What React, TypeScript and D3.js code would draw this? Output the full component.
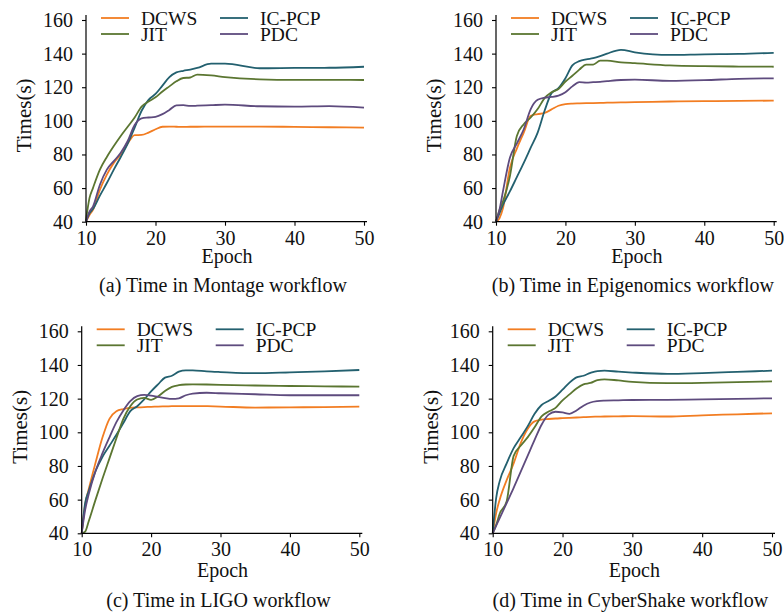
import { useEffect, useRef } from "react";
import * as d3 from "d3";

// epochs the curves were read at
const epochs = [10, 10.5, 11, 12, 13, 14, 15, 16, 17, 18, 19, 20, 21, 22, 23, 24, 25, 26, 28, 30, 35, 40, 45, 50];

const methods = ["DCWS", "IC-PCP", "JIT", "PDC"];
const colors = ["#f27d22", "#23606f", "#5b7631", "#5e4b7e"];
const yTicks = [40, 60, 80, 100, 120, 140, 160];
const xTicks = [10, 20, 30, 40, 50];

// (a) Montage
const montageDCWS = [40, 44, 47, 59, 68, 75, 80, 86.5, 91.5, 91.6, 93, 95, 96.5, 96.6, 96.5, 96.4, 96.5, 96.5, 96.6, 96.6, 96.6, 96.4, 96.2, 96];
const montageICPCP = [40, 45, 47.5, 55.5, 63, 71, 78.5, 86.5, 96, 106, 112.5, 116, 121, 126, 128.8, 129.8, 130.5, 131.5, 134, 134, 131.3, 131.5, 131.6, 132.2];
const montageJIT = [41, 54, 60, 71, 78.5, 85, 91, 96.5, 102, 108.5, 111.5, 114, 117.5, 120.5, 123.5, 125.5, 125.8, 127.5, 127, 126, 124.7, 124.4, 124.4, 124.3];
const montagePDC = [40, 46, 49, 62, 71, 76, 81, 88, 97.5, 101.5, 102, 102.4, 104, 106.5, 109.2, 109.3, 108.9, 109, 109.3, 109.6, 108.7, 108.5, 108.8, 107.9];

// (b) Epigenomics
const epiDCWS = [40, 42, 48, 72, 83.5, 93, 103, 104, 104.7, 106.8, 109, 110, 110.3, 110.4, 110.5, 110.6, 110.7, 110.8, 111, 111.1, 111.5, 111.7, 111.9, 112];
const epiICPCP = [40, 45, 50, 58, 66.5, 75, 84, 93, 106, 116.5, 119.5, 125.4, 133, 135.5, 136.6, 137.3, 138.5, 140, 142.2, 140.8, 139.2, 139.6, 139.8, 140.5];
const epiJIT = [40, 47, 52, 67, 91, 98, 102, 107, 113.5, 117, 119, 123.4, 126.8, 130.5, 133.5, 133.5, 135.8, 135.8, 134.8, 134.3, 133, 132.5, 132.3, 132.2];
const epiPDC = [40, 47, 58, 78, 86.5, 95, 107, 112.5, 113.8, 114.2, 115, 117, 120.5, 123, 122.8, 123, 123.2, 123.6, 124.3, 124.5, 123.8, 124.2, 125, 125.3];

// (c) LIGO
const ligoDCWS = [40, 57, 66, 82, 97, 108, 112.5, 113.8, 114.5, 114.8, 115, 115.1, 115.3, 115.4, 115.5, 115.6, 115.6, 115.6, 115.5, 115.3, 114.7, 114.8, 115, 115.2];
const ligoICPCP = [40, 58, 65, 77, 85.5, 92, 98.5, 105.5, 112.6, 115.5, 119.5, 124.3, 128.5, 132.5, 133.6, 136, 136.8, 136.8, 136.2, 135.8, 135.1, 135.6, 136.2, 137];
const ligoJIT = [40, 41, 47, 60, 72.5, 84.5, 96.5, 108, 115.5, 119.5, 120.5, 119.3, 121.3, 124.5, 127, 128, 128.4, 128.5, 128.4, 128.2, 127.8, 127.5, 127.3, 127.1];
const ligoPDC = [40, 54, 63, 77, 87.6, 97, 106, 113, 118.5, 121.5, 122.2, 121.8, 121, 120.3, 119.8, 120.2, 122, 123, 123.5, 123.2, 122.6, 122, 122, 122];

// (d) CyberShake
const cyberDCWS = [40, 52, 60, 71.6, 81.5, 93.5, 102, 106.5, 107.5, 107.9, 108.2, 108.4, 108.6, 108.8, 109, 109.2, 109.3, 109.4, 109.5, 109.6, 109.4, 110.1, 110.7, 111.3];
const cyberICPCP = [40, 61, 71, 81.5, 90.6, 97, 103.5, 111, 116.2, 118.6, 121.3, 125.3, 129.5, 132.6, 133.6, 135.3, 136.4, 136.6, 136, 135.5, 134.7, 135.2, 135.9, 136.6];
const cyberJIT = [40, 45, 51.6, 59, 86, 92, 97, 103, 109.5, 112.3, 114.5, 119, 122.5, 126, 128.5, 129.3, 131, 131.5, 130.8, 130, 129.2, 129.4, 129.8, 130.3];
const cyberPDC = [40, 44.5, 49, 58, 67, 76.5, 86, 95.5, 104.5, 110.5, 112.2, 111.8, 111, 113, 115.8, 117.7, 118.5, 118.8, 119, 119.2, 119.3, 119.6, 119.9, 120.2];

const panels = [
  { caption: "(a) Time in Montage workflow", series: [montageDCWS, montageICPCP, montageJIT, montagePDC], left: 86, right: 364, top: 20, bottom: 221.7, epochGap: 41.5, captionGap: 70 },
  { caption: "(b) Time in Epigenomics workflow", series: [epiDCWS, epiICPCP, epiJIT, epiPDC], left: 496, right: 773.7, top: 20, bottom: 221.7, epochGap: 41.5, captionGap: 70 },
  { caption: "(c) Time in LIGO workflow", series: [ligoDCWS, ligoICPCP, ligoJIT, ligoPDC], left: 81.7, right: 359.3, top: 331.3, bottom: 533.3, epochGap: 43.4, captionGap: 73.4 },
  { caption: "(d) Time in CyberShake workflow", series: [cyberDCWS, cyberICPCP, cyberJIT, cyberPDC], left: 492.7, right: 772, top: 331.3, bottom: 533.3, epochGap: 43.4, captionGap: 73.4 },
];

const font = "'Liberation Serif', 'Times New Roman', serif";

export default function App() {
  const svgRef = useRef<SVGSVGElement>(null);

  useEffect(() => {
    const svg = d3.select(svgRef.current);
    svg.selectAll("*").remove();

    panels.forEach((p) => {
      const x = d3.scaleLinear().domain([10, 50]).range([p.left, p.right]);
      const y = d3.scaleLinear().domain([40, 160]).range([p.bottom, p.top]);
      const g = svg.append("g");

      // lines first so the spines sit on top
      const line = d3.line<number>()
        .x((d, i) => x(epochs[i]))
        .y((d) => y(d))
        .curve(d3.curveMonotoneX);

      p.series.forEach((vals, k) => {
        g.append("path")
          .datum(vals)
          .attr("fill", "none")
          .attr("stroke", colors[k])
          .attr("stroke-width", 1.8)
          .attr("d", line);
      });

      const yAxis = g.append("g")
        .attr("transform", `translate(${p.left},0)`)
        .call(d3.axisLeft(y).tickValues(yTicks).tickSize(4).tickPadding(9).tickFormat(d3.format("d")));
      const xAxis = g.append("g")
        .attr("transform", `translate(0,${p.bottom})`)
        .call(d3.axisBottom(x).tickValues(xTicks).tickSize(4).tickPadding(5).tickFormat(d3.format("d")));

      [yAxis, xAxis].forEach((ax) => {
        ax.select(".domain").remove();
        ax.selectAll("line").attr("stroke", "#000").attr("stroke-width", 1.1);
        ax.selectAll("text").attr("font-family", font).attr("font-size", 20).attr("fill", "#111");
      });

      // spines
      g.append("line")
        .attr("x1", p.left).attr("x2", p.left)
        .attr("y1", p.bottom).attr("y2", p.top - 5)
        .attr("stroke", "#000").attr("stroke-width", 1.2);
      g.append("line")
        .attr("x1", p.left).attr("x2", p.right + 3)
        .attr("y1", p.bottom).attr("y2", p.bottom)
        .attr("stroke", "#000").attr("stroke-width", 1.2);

      // axis titles
      g.append("text")
        .attr("transform", `translate(${p.left - 62},${(p.top + p.bottom) / 2 - 5.5}) rotate(-90)`)
        .attr("text-anchor", "middle")
        .attr("dy", "0.35em")
        .attr("font-family", font)
        .attr("font-size", 21)
        .attr("fill", "#111")
        .text("Times(s)");
      g.append("text")
        .attr("x", (p.left + p.right) / 2 + 2)
        .attr("y", p.bottom + p.epochGap)
        .attr("text-anchor", "middle")
        .attr("font-family", font)
        .attr("font-size", 20)
        .attr("fill", "#111")
        .text("Epoch");
      g.append("text")
        .attr("x", (p.left + p.right) / 2 - 2)
        .attr("y", p.bottom + p.captionGap)
        .attr("text-anchor", "middle")
        .attr("font-family", font)
        .attr("font-size", 20)
        .attr("fill", "#111")
        .text(p.caption);

      // legend, two columns: DCWS / JIT left, IC-PCP / PDC right
      const slots = [
        { col: 0, row: 0 },
        { col: 1, row: 0 },
        { col: 0, row: 1 },
        { col: 1, row: 1 },
      ];
      methods.forEach((m, k) => {
        const s = slots[k];
        const lx = p.left + 15 + s.col * 119;
        const ly = p.top - 2 + s.row * 16;
        g.append("line")
          .attr("x1", lx).attr("x2", lx + 28)
          .attr("y1", ly).attr("y2", ly)
          .attr("stroke", colors[k]).attr("stroke-width", 1.8);
        g.append("text")
          .attr("x", lx + 40)
          .attr("y", ly + 6.5)
          .attr("font-family", font)
          .attr("font-size", 19.5)
          .attr("fill", "#111")
          .text(m);
      });
    });
  }, []);

  return (
    <svg
      ref={svgRef}
      width={784}
      height={613}
      style={{ position: "absolute", left: 0, top: 0, background: "#fff" }}
    ></svg>
  );
}
